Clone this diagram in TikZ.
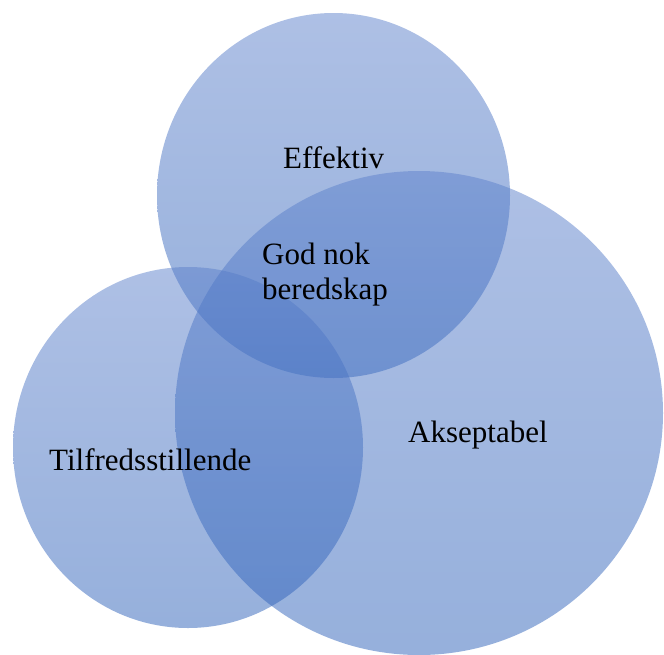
\documentclass[tikz,border=0pt]{standalone}
\usepackage{fontspec}
\setmainfont{Liberation Serif}
\definecolor{vtop}{RGB}{93,129,203}
\definecolor{vbot}{RGB}{45,97,185}
\tikzset{
  venn/.style={top color=vtop, bottom color=vbot, fill opacity=0.5, draw=none},
  lbl/.style={anchor=base west, inner sep=0pt, text=black, font=\fontsize{31}{34.5}\selectfont, align=left}
}
\begin{document}
\begin{tikzpicture}[x=1pt,y=-1pt]
\useasboundingbox (0,0) rectangle (664,654);
\clip (0,0) rectangle (664,654);
% circles
\coordinate (ctop) at (333.5,195.5);
\coordinate (cleft) at (188,447.5);
\coordinate (cright) at (419,413);
\shade[venn] (ctop) ellipse [x radius=176.5pt, y radius=182.5pt];
\shade[venn] (cleft) ellipse [x radius=175pt, y radius=180.5pt];
\shade[venn] (cright) ellipse [x radius=244pt, y radius=242pt];
% labels
\node[lbl] (eff) at (283,168) {Effektiv};
\node[lbl] (god) at (262,299) {God nok\\beredskap};
\node[lbl] (tilf) at (49,470) {Tilfredsstillende};
\node[lbl] (aks) at (408,442) {Akseptabel};
\end{tikzpicture}
\end{document}
